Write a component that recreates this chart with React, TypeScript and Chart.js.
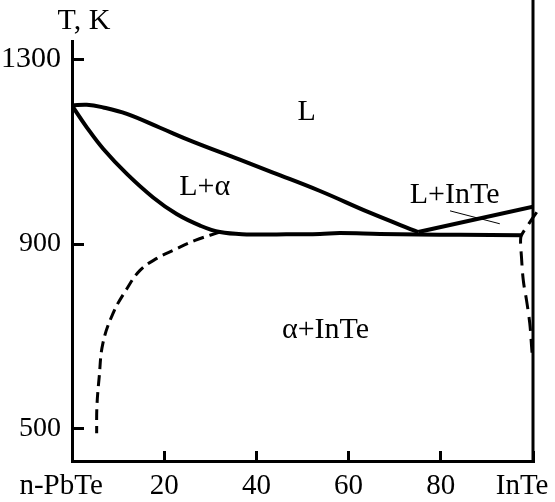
import React, { useEffect, useRef } from 'react';
import { Chart, registerables } from 'chart.js';

Chart.register(...registerables);

const FONT = '"Liberation Serif", "Times New Roman", serif';

// Axis ticks
const xTickValues = [0, 20, 40, 60, 80, 100];
const xTickLabels = ['n-PbTe   ', '20', '40', '60', '80', 'InTe   '];
const yTickValues = [500, 900, 1300];
const axisTitle = 'T, K';

// Liquidus (PbTe side) – composition (mol % InTe) and temperature (K)
const liquidusPbTeX = [0, 3.2, 6.8, 11.9, 19.1, 26.2, 36.4, 43.6, 53.8, 64.6, 75.1];
const liquidusPbTeT = [1200, 1202, 1196, 1182, 1152, 1122, 1083, 1055, 1015, 968, 926];
// Liquidus (InTe side)
const liquidusInTeX = [75.1, 100];
const liquidusInTeT = [926, 981];
// Solidus + eutectic horizontal
const solidusX = [0, 3.2, 6.8, 11.9, 17.6, 22.7, 27.8, 32.1, 37.9, 44.4, 53.8, 58.1, 66.8, 75.1, 84.2, 97.5];
const solidusT = [1200, 1153, 1106, 1052, 1001, 965, 940, 926, 921, 921, 922, 924, 922, 921, 920, 919];
// Solvus (PbTe side, dashed)
const solvusPbTeX = [32.1, 26.7, 21.9, 18.4, 14.75, 11.7, 8.9, 6.7, 5.9, 5.4, 5.35];
const solvusPbTeT = [926, 908, 886, 869, 843, 800, 750, 685, 612, 547, 490];
// Solvus (InTe side, dashed)
const solvusInTeX = [100.8, 99.3, 97.5, 97.3, 97.5, 97.9, 98.6, 99.3, 99.7, 99.8];
const solvusInTeT = [969, 947, 919, 908, 872, 821, 778, 728, 677, 663];
// Thin pointer line under "L+InTe"
const pointerX = [82, 92.8];
const pointerT = [972, 944];

// Region labels
const regionLabels = ['L', 'L+α', 'L+InTe', 'α+InTe'];
const regionX = [50.9, 28.8, 83, 55];
const regionT = [1185, 1024, 1005, 713];

const pts = (xs: number[], ys: number[]) => xs.map((x, i) => ({ x, y: ys[i] }));

const overlay = {
  id: 'overlay',
  afterDatasetsDraw(chart: any) {
    const { ctx, chartArea, scales } = chart;
    const xs = scales.x;
    const ys = scales.y;
    ctx.save();
    ctx.strokeStyle = '#000';
    ctx.lineWidth = 3;
    ctx.setLineDash([]);
    ctx.beginPath();
    ctx.moveTo(chartArea.right, 0);
    ctx.lineTo(chartArea.right, chartArea.bottom + 1.5);
    ctx.stroke();
    ctx.fillStyle = '#000';
    ctx.font = '30px ' + FONT;
    ctx.textAlign = 'center';
    ctx.textBaseline = 'middle';
    regionLabels.forEach((t, i) => {
      ctx.fillText(t, xs.getPixelForValue(regionX[i]), ys.getPixelForValue(regionT[i]));
    });
    ctx.fillText(axisTitle, chartArea.left + 12, chartArea.top - 20);
    ctx.restore();
  },
};

export default function App() {
  const ref = useRef<HTMLCanvasElement | null>(null);
  useEffect(() => {
    if (!ref.current) return;
    const base = { borderColor: '#000', pointRadius: 0, fill: false };
    const chart = new Chart(ref.current, {
      type: 'line',
      data: {
        datasets: [
          { ...base, label: 'liquidus PbTe', data: pts(liquidusPbTeX, liquidusPbTeT), borderWidth: 4, tension: 0.4 },
          { ...base, label: 'liquidus InTe', data: pts(liquidusInTeX, liquidusInTeT), borderWidth: 4, tension: 0 },
          { ...base, label: 'solidus', data: pts(solidusX, solidusT), borderWidth: 4, tension: 0.4 },
          { ...base, label: 'solvus PbTe', data: pts(solvusPbTeX, solvusPbTeT), borderWidth: 3, borderDash: [11, 6], tension: 0.4 },
          { ...base, label: 'solvus InTe', data: pts(solvusInTeX, solvusInTeT), borderWidth: 3, borderDash: [14, 8], tension: 0.4, clip: false },
          { ...base, label: 'pointer', data: pts(pointerX, pointerT), borderWidth: 1, tension: 0 },
        ] as any,
      },
      options: {
        animation: false,
        responsive: true,
        maintainAspectRatio: false,
        layout: { padding: { top: 40, right: 22, left: 0, bottom: 0 } },
        plugins: { legend: { display: false }, tooltip: { enabled: false } },
        scales: {
          x: {
            type: 'linear',
            min: 0,
            max: 100,
            afterBuildTicks: (s: any) => {
              s.ticks = xTickValues.map((v) => ({ value: v }));
            },
            afterFit: (s: any) => {
              s.height = 41;
              s.paddingLeft = 0;
              s.paddingRight = 0;
            },
            ticks: {
              autoSkip: false,
              maxRotation: 0,
              padding: 18,
              color: '#000',
              font: { family: FONT, size: 29 },
              callback: (v: any) => xTickLabels[xTickValues.indexOf(Number(v))] ?? '',
            },
            grid: { display: true, drawOnChartArea: false, drawTicks: true, tickLength: -10, lineWidth: 3, color: '#000' },
            border: { display: true, color: '#000', width: 3 },
          },
          y: {
            type: 'linear',
            min: 430,
            max: 1340,
            afterBuildTicks: (s: any) => {
              s.ticks = yTickValues.map((v) => ({ value: v }));
            },
            afterFit: (s: any) => {
              s.width = 72;
            },
            ticks: {
              padding: 23,
              color: '#000',
              font: (c: any) => ({ family: FONT, size: c.tick && c.tick.value === 1300 ? 30 : 28 }),
              callback: (v: any) => String(v),
            },
            grid: { display: true, drawOnChartArea: false, drawTicks: true, tickLength: -12, lineWidth: 3, color: '#000' },
            border: { display: true, color: '#000', width: 3 },
          },
        },
      } as any,
      plugins: [overlay],
    });
    return () => chart.destroy();
  }, []);
  return (
    <div style={{ position: 'fixed', left: 0, top: 0, width: 555, height: 502, background: '#fff' }}>
      <canvas ref={ref} />
    </div>
  );
}
